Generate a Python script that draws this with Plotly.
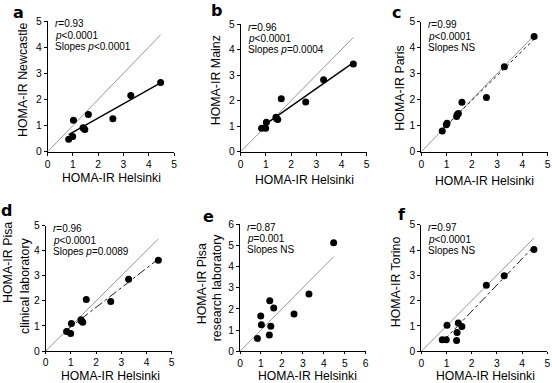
import numpy as np
import plotly.graph_objects as go

# ---- data ----
helsinki = [0.83, 0.99, 1.02, 1.40, 1.42, 1.47, 1.61, 2.58, 3.29, 4.47]
newcastle = [0.48, 0.58, 1.20, 0.92, 0.90, 0.85, 1.42, 1.26, 2.15, 2.65]
mainz = [0.92, 0.92, 1.15, 1.35, 1.30, 1.26, 2.07, 1.95, 2.82, 3.43]
paris = [0.80, 1.04, 1.09, 1.35, 1.42, 1.47, 1.90, 2.08, 3.27, 4.43]
pisa_clinical = [0.78, 0.70, 1.10, 1.25, 1.20, 1.15, 2.06, 1.98, 2.86, 3.62]
pisa_research = [0.61, 1.67, 1.26, 0.77, 2.39, 1.18, 2.05, 1.76, 2.71, 5.13]
torino = [0.46, 0.46, 1.03, 0.43, 0.74, 1.12, 0.98, 2.61, 2.98, 4.02]

panel_letters = ["a", "b", "c", "d", "e", "f"]
y_titles = [["HOMA-IR Newcastle"], ["HOMA-IR Mainz"], ["HOMA-IR Paris"],
            ["HOMA-IR Pisa", "clinical laboratory"], ["HOMA-IR Pisa", "research laboratory"],
            ["HOMA-IR Torino"]]
x_title = "HOMA-IR Helsinki"
stats = [["<i>r</i>=0.93", "<i>p</i>&lt;0.0001", "Slopes <i>p</i>&lt;0.0001"],
         ["<i>r</i>=0.96", "<i>p</i>&lt;0.0001", "Slopes <i>p</i>=0.0004"],
         ["<i>r</i>=0.99", "<i>p</i>&lt;0.0001", "Slopes NS"],
         ["<i>r</i>=0.96", "<i>p</i>&lt;0.0001", "Slopes <i>p</i>=0.0089"],
         ["<i>r</i>=0.87", "<i>p</i>=0.001", "Slopes NS"],
         ["<i>r</i>=0.97", "<i>p</i>&lt;0.0001", "Slopes NS"]]
axis_max = [5, 5, 5, 5, 6, 5]
series = [newcastle, mainz, paris, pisa_clinical, pisa_research, torino]
reg_style = ["solid", "solid", "dot", "dashdot", None, "dashdot"]

# ---- layout geometry (pixels) ----
W, H = 552, 383
boxes = [(47.7, 174, 21, 151.7), (240.7, 366.7, 24, 151.7), (421.3, 547.5, 21.7, 151.7),
         (45.7, 171.7, 225.7, 351), (240, 365.7, 224.3, 351.3), (421.3, 547.3, 224.7, 351.3)]
letter_pos = [(18, 12), (216, 10), (396, 12), (6, 210), (208, 216), (402, 214)]
ytitle_pos = [[(23, 80)], [(216.3, 80)], [(399.7, 88)],
              [(8, 263), (25, 286)], [(202.3, 284), (217.3, 287)], [(396.3, 282)]]
xtitle_pos = [(111.8, 178), (304.3, 179.5), (484.7, 181),
              (110, 376), (307.3, 376), (485.5, 376)]

def px(x):
    return x / W

def py(y):
    return 1 - y / H

FONT = "Liberation Sans, Arial, Helvetica, sans-serif"
fig = go.Figure()
annotations = []
layout = {}

for i in range(6):
    sfx = "" if i == 0 else str(i + 1)
    xa, ya = "x" + sfx, "y" + sfx
    x0, x1, yt, yb = boxes[i]
    m = axis_max[i]
    bottom_row = i >= 3
    ax_common = dict(range=[0, m], showgrid=False, zeroline=False, showline=True,
                     linecolor="black", linewidth=1, ticks="outside",
                     tickwidth=1, tickcolor="black", dtick=1, automargin=False,
                     tickfont=dict(family=FONT, size=10.3, color="black"))
    layout["xaxis" + sfx] = dict(domain=[px(x0), px(x1)], anchor=ya,
                                 ticklen=2 if bottom_row else 3, **ax_common)
    layout["yaxis" + sfx] = dict(domain=[py(yb), py(yt)], anchor=xa, ticklen=3, **ax_common)

    xs = np.array(helsinki)
    ys = np.array(series[i])
    # identity line
    lim = xs.max()
    fig.add_trace(go.Scatter(x=[0, lim], y=[0, lim], mode="lines",
                             line=dict(color="#8a8a8a", width=0.9),
                             xaxis=xa, yaxis=ya, showlegend=False, hoverinfo="skip"))
    # regression line
    if reg_style[i]:
        k, b = np.polyfit(xs, ys, 1)
        xr = np.array([xs.min(), xs.max()])
        w = 1.4 if reg_style[i] == "solid" else 0.9
        fig.add_trace(go.Scatter(x=xr, y=k * xr + b, mode="lines",
                                 line=dict(color="black", width=w, dash=reg_style[i]),
                                 xaxis=xa, yaxis=ya, showlegend=False, hoverinfo="skip"))
    fig.add_trace(go.Scatter(x=xs, y=ys, mode="markers",
                             marker=dict(color="black", size=7),
                             xaxis=xa, yaxis=ya, showlegend=False, cliponaxis=False))

    # panel letter
    lx, ly = letter_pos[i]
    annotations.append(dict(x=px(lx), y=py(ly), xref="paper", yref="paper",
                            text="<b>%s</b>" % panel_letters[i], showarrow=False,
                            font=dict(family="DejaVu Sans", size=16, color="black"),
                            xanchor="center", yanchor="middle"))
    # stats text
    for j, t in enumerate(stats[i]):
        annotations.append(dict(x=px(x0 + 5.8), y=py(yt + 3 + 11.3 * j), xref="paper", yref="paper",
                                text=t, showarrow=False, xanchor="left", yanchor="middle",
                                borderpad=0,
                                font=dict(family=FONT, size=10, color="black")))
    # y titles
    for t, (tx, ty) in zip(y_titles[i], ytitle_pos[i]):
        annotations.append(dict(x=px(tx), y=py(ty), xref="paper", yref="paper", text=t,
                                showarrow=False, textangle=-90, xanchor="center", yanchor="middle",
                                borderpad=0,
                                font=dict(family=FONT, size=12.4, color="black")))
    # x title
    tx, ty = xtitle_pos[i]
    annotations.append(dict(x=px(tx), y=py(ty), xref="paper", yref="paper", text=x_title,
                            showarrow=False, xanchor="center", yanchor="middle", borderpad=0,
                            font=dict(family=FONT, size=12.2, color="black")))

fig.update_layout(width=W, height=H, margin=dict(l=0, r=0, t=0, b=0, autoexpand=False),
                  paper_bgcolor="white", plot_bgcolor="white",
                  annotations=annotations, **layout)
fig.write_html("out.html", config={"displayModeBar": False},
               post_script="document.body.style.margin='0px';document.body.style.padding='0px';")
